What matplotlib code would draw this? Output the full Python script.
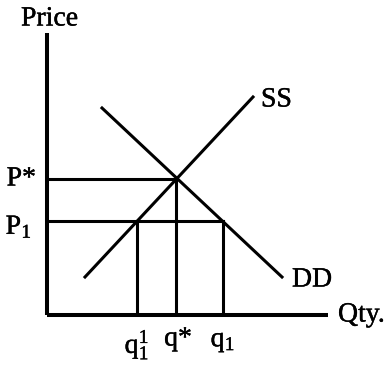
import matplotlib
matplotlib.use("Agg")
import matplotlib.pyplot as plt
import matplotlib.patheffects as pe

plt.rcParams['font.family'] = ['Liberation Serif', 'DejaVu Serif']
plt.rcParams['mathtext.fontset'] = 'custom'
plt.rcParams['mathtext.rm'] = 'Liberation Serif'
plt.rcParams['mathtext.it'] = 'Liberation Serif'

# curves (quantity, price)
ss_q = [3.8, 20.6]
ss_p = [3.8, 21.8]
dd_q = [5.5, 23.5]
dd_p = [20.7, 3.8]

# equilibrium and the lower price
q_star, p_star = 12.9, 13.6
p_low = 9.4
q_supplied = 9.0   # q1^1
q_demanded = 17.6  # q1

x_max, y_max = 28.1, 28.2

fig = plt.figure(figsize=(3.84, 3.71), dpi=100)
ax = fig.add_axes([47/384, 56/371, 281/384, 282/371])
ax.set_xlim(0, x_max)
ax.set_ylim(0, y_max)
ax.axis('off')

lw = 2.2
ax.plot([0, x_max], [0, 0], color='black', lw=2.9, clip_on=False, solid_capstyle='butt')
ax.plot([0, 0], [0, y_max], color='black', lw=2.9, clip_on=False, solid_capstyle='butt')

ax.plot(ss_q, ss_p, color='black', lw=lw)
ax.plot(dd_q, dd_p, color='black', lw=lw)

# guide lines
ax.plot([0, q_star], [p_star, p_star], color='black', lw=lw)
ax.plot([0, q_demanded], [p_low, p_low], color='black', lw=lw)
ax.plot([q_star, q_star], [0, p_star], color='black', lw=lw)
ax.plot([q_supplied, q_supplied], [0, p_low], color='black', lw=lw)
ax.plot([q_demanded, q_demanded], [0, p_low], color='black', lw=lw)

fs = 20
bold = [pe.withStroke(linewidth=0.3, foreground='black')]
kw = dict(color='black', clip_on=False, path_effects=bold)
ax.text(-2.6, y_max + 1.4, 'Price', fontsize=fs, ha='left', va='center', **kw)
ax.text(x_max + 1.0, 0, 'Qty.', fontsize=fs, ha='left', va='center', **kw)
ax.text(ss_q[1] + 0.8, ss_p[1] - 0.3, 'SS', fontsize=fs, ha='left', va='center', **kw)
ax.text(dd_q[1] + 1.0, dd_p[1] - 0.3, 'DD', fontsize=fs, ha='left', va='center', **kw)
ax.text(-1.1, p_star, 'P*', fontsize=fs, ha='right', va='center', **kw)
ax.text(-1.5, p_low - 0.6, r'$\mathrm{P}_1$', fontsize=fs, ha='right', va='center', **kw)
ax.text(q_supplied, -3.0, r'$\mathrm{q}_1^1$', fontsize=fs, ha='center', va='center', **kw)
ax.text(q_star + 0.2, -2.4, 'q*', fontsize=fs, ha='center', va='center', **kw)
ax.text(q_demanded, -2.7, r'$\mathrm{q}_1$', fontsize=fs, ha='center', va='center', **kw)

fig.savefig('out.png', dpi=100, facecolor='white')
